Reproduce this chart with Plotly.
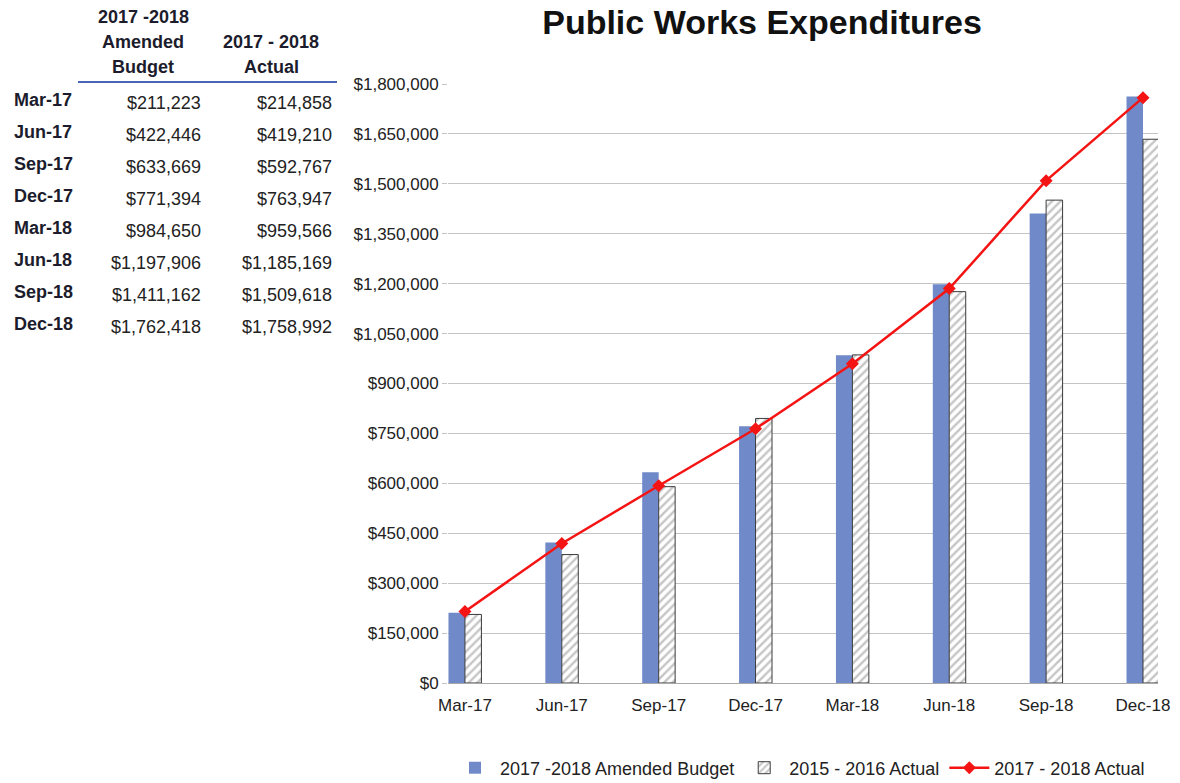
import plotly.graph_objects as go

# Quarter labels and expenditure series
months = ["Mar-17", "Jun-17", "Sep-17", "Dec-17", "Mar-18", "Jun-18", "Sep-18", "Dec-18"]
amended_budget_1718 = [211223, 422446, 633669, 771394, 984650, 1197906, 1411162, 1762418]
actual_1718 = [214858, 419210, 592767, 763947, 959566, 1185169, 1509618, 1758992]
actual_1516 = [206000, 386000, 590000, 795000, 986000, 1176000, 1451000, 1634000]

# y-axis ticks
y_ticks = list(range(0, 1800001, 150000))
y_tick_text = [f"${v:,}" for v in y_ticks]

FONT = "Liberation Sans, Arial, sans-serif"
BLUE = "#7089c9"
RED = "#f41414"

# Page geometry (pixels) used to place the side table next to the plot area
W, H = 1180, 783
L, R, T, B = 448, 22, 84, 100
PW, PH = W - L - R, H - T - B


def px_x(px):
    return (px - L) / PW


def px_y(py):
    return (H - B - py) / PH


fig = go.Figure()

fig.add_trace(go.Bar(
    x=months, y=amended_budget_1718, name="2017 -2018 Amended Budget",
    marker=dict(color=BLUE, line=dict(width=0)),
))
fig.add_trace(go.Bar(
    x=months, y=actual_1516, name="2015 - 2016 Actual",
    marker=dict(
        color="white",
        line=dict(color="#3a3a3a", width=1),
        pattern=dict(shape="/", fgcolor="#8c8c8c", bgcolor="white", size=6, solidity=0.4),
    ),
))
fig.add_trace(go.Scatter(
    x=months, y=actual_1718, name="2017 - 2018 Actual", mode="lines+markers",
    line=dict(color=RED, width=2.5),
    marker=dict(symbol="diamond", size=10, color=RED),
))

# Side table: header, underline, rows
annotations = []
hdr_font = dict(family=FONT, size=18, color="#1c1c2c")
for text, cx, cy in [
    ("<b>2017 -2018</b>", 143, 17), ("<b>Amended</b>", 143, 42), ("<b>Budget</b>", 143, 67),
    ("<b>2017 - 2018</b>", 271, 42), ("<b>Actual</b>", 271, 67),
]:
    annotations.append(dict(
        text=text, x=px_x(cx), y=px_y(cy), xref="paper", yref="paper",
        xanchor="center", yanchor="middle", showarrow=False, font=hdr_font,
    ))

row_font = dict(family=FONT, size=18, color="#1c1c2c")
val_font = dict(family=FONT, size=18, color="#222222")
for i, m in enumerate(months):
    ly = 100 + 32 * i
    vy = 103 + 32 * i
    annotations.append(dict(
        text=f"<b>{m}</b>", x=px_x(12), y=px_y(ly), xref="paper", yref="paper",
        xanchor="left", yanchor="middle", showarrow=False, font=row_font,
    ))
    annotations.append(dict(
        text=f"${amended_budget_1718[i]:,}", x=px_x(203), y=px_y(vy), xref="paper", yref="paper",
        xanchor="right", yanchor="middle", showarrow=False, font=val_font,
    ))
    annotations.append(dict(
        text=f"${actual_1718[i]:,}", x=px_x(334), y=px_y(vy), xref="paper", yref="paper",
        xanchor="right", yanchor="middle", showarrow=False, font=val_font,
    ))

shapes = [dict(
    type="line", xref="paper", yref="paper",
    x0=px_x(78), x1=px_x(337), y0=px_y(82), y1=px_y(82),
    line=dict(color="#4a64b8", width=2),
)]

fig.update_layout(
    width=W, height=H,
    margin=dict(l=L, r=R, t=T, b=B, autoexpand=False),
    paper_bgcolor="white", plot_bgcolor="white",
    barmode="group", bargap=0.66, bargroupgap=0,
    title=dict(
        text="<b>Public Works Expenditures</b>", x=px_x(762), xref="paper", xanchor="center",
        y=1 - 22 / H, yanchor="middle", font=dict(family=FONT, size=34, color="#111111"),
    ),
    font=dict(family=FONT, size=17, color="#222222"),
    xaxis=dict(
        type="category", range=[-0.175, 7.155], showgrid=False,
        showline=True, linecolor="#a8a8a8", linewidth=1,
        tickfont=dict(family=FONT, size=17, color="#222222"), ticks="",
        ticklabelstandoff=7, automargin=False,
    ),
    yaxis=dict(
        range=[0, 1800000], tickmode="array", tickvals=y_ticks, ticktext=y_tick_text,
        showgrid=True, gridcolor="#c4c4c4", gridwidth=1, zeroline=False,
        showline=False, ticks="outside", ticklen=5, tickcolor="#c4c4c4",
        tickfont=dict(family=FONT, size=17, color="#222222"),
        automargin=False,
    ),
    legend=dict(
        orientation="h", x=px_x(800), xanchor="center", y=px_y(768), yanchor="middle",
        font=dict(family="Liberation Sans Narrow, Arial Narrow, " + FONT, size=18, color="#222222"),
        itemwidth=40, traceorder="normal",
    ),
    annotations=annotations,
    shapes=shapes,
)

fig.write_html("out.html")
